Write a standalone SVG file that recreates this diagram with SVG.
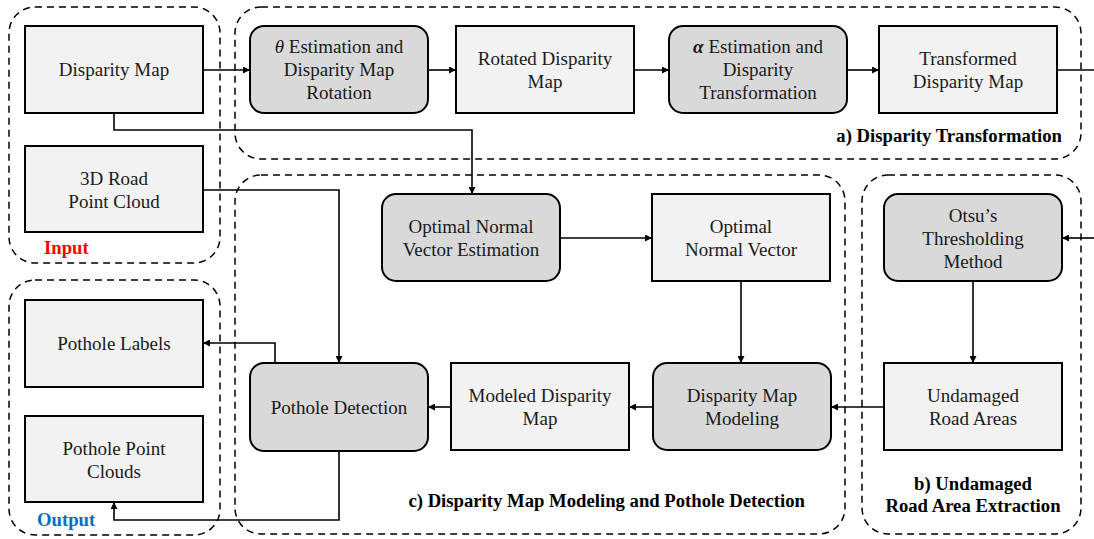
<svg xmlns="http://www.w3.org/2000/svg" width="1094" height="539" viewBox="0 0 1094 539">
<style>
.grp{fill:none;stroke:#000;stroke-width:1.5;stroke-dasharray:7 5}
.lt{fill:#f2f2f2;stroke:#000;stroke-width:2}
.dk{fill:#d9d9d9;stroke:#000;stroke-width:2}
.c{fill:none;stroke:#000;stroke-width:1.6}
text{font-family:"Liberation Serif","Times New Roman",serif}
.t{font-size:19px;fill:#1a1a1a;text-anchor:middle}
.lb{font-size:18.7px;font-weight:bold;fill:#000}
</style>
<defs>
<marker id="ah" viewBox="0 0 10 10" refX="10" refY="5" markerWidth="8" markerHeight="7" markerUnits="userSpaceOnUse" orient="auto">
<path d="M0,0 L10,5 L0,10 z" fill="#000"/>
</marker>
</defs>
<g id="groups">
<rect class="grp" x="9" y="7" width="211" height="256" rx="26"/>
<rect class="grp" x="235" y="7" width="846" height="152" rx="26"/>
<rect class="grp" x="235" y="175" width="610" height="359" rx="26"/>
<rect class="grp" x="862" y="175" width="219" height="359" rx="26"/>
<rect class="grp" x="9" y="280" width="211" height="255" rx="26"/>
<text class="lb" x="44" y="254" style="fill:#ff0000">Input</text>
<text class="lb" x="37" y="526" style="fill:#0070c0">Output</text>
<text class="lb" x="1062" y="142" text-anchor="end">a) Disparity Transformation</text>
<text class="lb" x="805" y="507" text-anchor="end">c) Disparity Map Modeling and Pothole Detection</text>
<text class="lb" x="973" y="490" text-anchor="middle">b) Undamaged</text>
<text class="lb" x="973" y="512" text-anchor="middle">Road Area Extraction</text>
</g>
<g id="connectors">
<line class="c" x1="203" y1="70" x2="250" y2="70" marker-end="url(#ah)"/>
<line class="c" x1="428" y1="70" x2="456" y2="70" marker-end="url(#ah)"/>
<line class="c" x1="634" y1="70" x2="669" y2="70" marker-end="url(#ah)"/>
<line class="c" x1="847" y1="70" x2="879" y2="70" marker-end="url(#ah)"/>
<line class="c" x1="1057" y1="70" x2="1094" y2="70"/>
<polyline class="c" points="114,113 114,130 472,130 472,194" marker-end="url(#ah)"/>
<polyline class="c" points="203,190 339,190 339,363" marker-end="url(#ah)"/>
<line class="c" x1="560" y1="238" x2="652" y2="238" marker-end="url(#ah)"/>
<line class="c" x1="1094" y1="238" x2="1062" y2="238" marker-end="url(#ah)"/>
<line class="c" x1="973" y1="281" x2="973" y2="363" marker-end="url(#ah)"/>
<line class="c" x1="741" y1="281" x2="741" y2="363" marker-end="url(#ah)"/>
<line class="c" x1="884" y1="407" x2="831" y2="407" marker-end="url(#ah)"/>
<line class="c" x1="653" y1="407" x2="629" y2="407" marker-end="url(#ah)"/>
<line class="c" x1="451" y1="407" x2="428" y2="407" marker-end="url(#ah)"/>
<polyline class="c" points="275,363 275,343 203,343" marker-end="url(#ah)"/>
<polyline class="c" points="339,451 339,520 114,520 114,502" marker-end="url(#ah)"/>
</g>
<g id="disparity-map"><rect class="lt" x="25" y="26" width="178" height="87"/><text class="t" x="114" y="76">Disparity Map</text></g>
<g id="road-point-cloud"><rect class="lt" x="25" y="146" width="178" height="86"/><text class="t" x="114" y="185">3D Road</text><text class="t" x="114" y="208">Point Cloud</text></g>
<g id="theta-estimation"><rect class="dk" x="250" y="26" width="178" height="87" rx="14"/><text class="t" x="339" y="53"><tspan font-style="italic">θ</tspan> Estimation and</text><text class="t" x="339" y="76">Disparity Map</text><text class="t" x="339" y="99">Rotation</text></g>
<g id="rotated-disparity"><rect class="lt" x="456" y="26" width="178" height="87"/><text class="t" x="545" y="65">Rotated Disparity</text><text class="t" x="545" y="88">Map</text></g>
<g id="alpha-estimation"><rect class="dk" x="669" y="26" width="178" height="87" rx="14"/><text class="t" x="758" y="53"><tspan font-style="italic" font-weight="bold">α</tspan> Estimation and</text><text class="t" x="758" y="76">Disparity</text><text class="t" x="758" y="99">Transformation</text></g>
<g id="transformed-disparity"><rect class="lt" x="879" y="26" width="178" height="87"/><text class="t" x="968" y="65">Transformed</text><text class="t" x="968" y="88">Disparity Map</text></g>
<g id="normal-estimation"><rect class="dk" x="382" y="194" width="178" height="87" rx="14"/><text class="t" x="471" y="233">Optimal Normal</text><text class="t" x="471" y="256">Vector Estimation</text></g>
<g id="normal-vector"><rect class="lt" x="652" y="194" width="178" height="87"/><text class="t" x="741" y="233">Optimal</text><text class="t" x="741" y="256">Normal Vector</text></g>
<g id="otsu"><rect class="dk" x="884" y="194" width="178" height="87" rx="14"/><text class="t" x="973" y="222">Otsu’s</text><text class="t" x="973" y="245">Thresholding</text><text class="t" x="973" y="268">Method</text></g>
<g id="undamaged-areas"><rect class="lt" x="884" y="363" width="178" height="87"/><text class="t" x="973" y="402">Undamaged</text><text class="t" x="973" y="425">Road Areas</text></g>
<g id="map-modeling"><rect class="dk" x="653" y="363" width="178" height="87" rx="14"/><text class="t" x="742" y="402">Disparity Map</text><text class="t" x="742" y="425">Modeling</text></g>
<g id="modeled-disparity"><rect class="lt" x="451" y="363" width="178" height="87"/><text class="t" x="540" y="402">Modeled Disparity</text><text class="t" x="540" y="425">Map</text></g>
<g id="pothole-detection"><rect class="dk" x="250" y="363" width="178" height="88" rx="14"/><text class="t" x="339" y="414">Pothole Detection</text></g>
<g id="pothole-labels"><rect class="lt" x="25" y="300" width="178" height="87"/><text class="t" x="114" y="350">Pothole Labels</text></g>
<g id="pothole-clouds"><rect class="lt" x="25" y="416" width="178" height="86"/><text class="t" x="114" y="455">Pothole Point</text><text class="t" x="114" y="478">Clouds</text></g>
</svg>
